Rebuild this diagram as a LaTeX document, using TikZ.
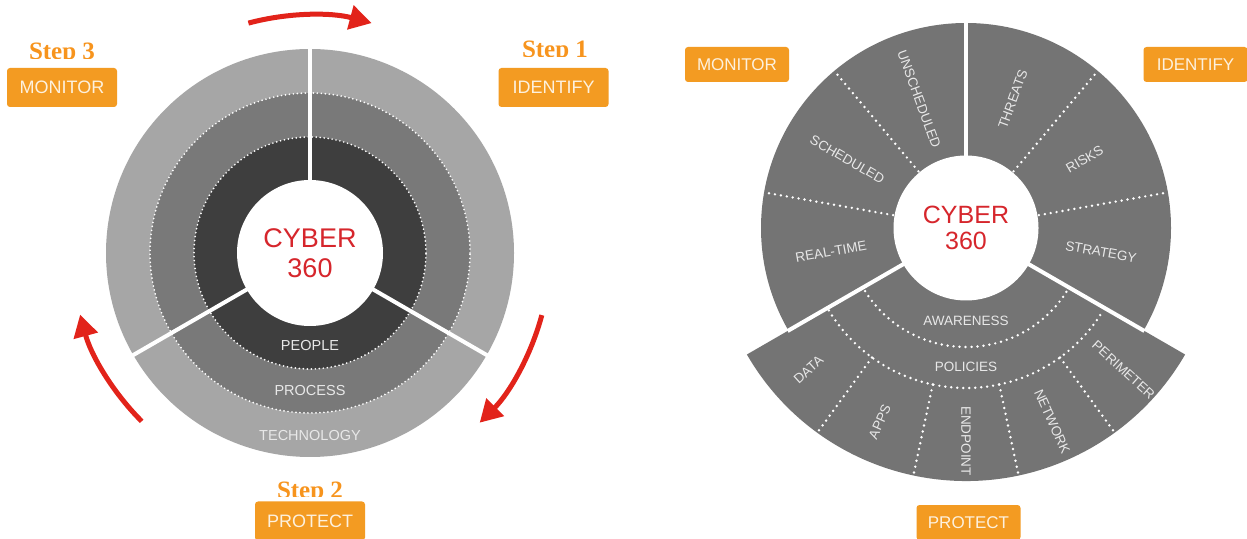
\documentclass[tikz,border=0pt]{standalone}
\usepackage{fontspec}
\setmainfont{Liberation Sans}
\newfontfamily\stepfont{Liberation Serif}
\usetikzlibrary{arrows.meta,calc}
\definecolor{ring1}{HTML}{A6A6A6}
\definecolor{ring2}{HTML}{797979}
\definecolor{ring3}{HTML}{3E3E3E}
\definecolor{sect}{HTML}{747474}
\definecolor{orng}{HTML}{F39B22}
\definecolor{stepc}{HTML}{F7941D}
\definecolor{boxtxt}{HTML}{FDF1DE}
\definecolor{redarr}{HTML}{E2231A}
\definecolor{cyb}{HTML}{D6262C}
\definecolor{lbl}{HTML}{E8E8E8}
\begin{document}
\begin{tikzpicture}[x=1pt,y=1pt,
  ldot/.style={white, line width=1.9pt, dash pattern=on 0pt off 4pt, line cap=round},
  rdot/.style={white, line width=2.7pt, dash pattern=on 0pt off 6pt, line cap=round},
  gap/.style={white, line width=4pt},
  lab/.style={text=lbl, font=\fontsize{13.5}{13.5}\selectfont, inner sep=0pt},
  llab/.style={text=lbl, font=\fontsize{14.5}{14.5}\selectfont, inner sep=0pt},
  tag/.style={fill=orng, rounded corners=3pt, text=boxtxt, inner sep=0pt},
  ltag/.style={tag, minimum width=110pt, minimum height=39pt, font=\fontsize{18}{18}\selectfont},
  rtag/.style={tag, minimum width=104pt, minimum height=35pt, font=\fontsize{17}{17}\selectfont},
  steptxt/.style={text=stepc, font=\stepfont\bfseries\fontsize{25}{25}\selectfont, anchor=base, inner sep=0pt},
  core/.style={circle, fill=white, inner sep=0pt, align=center, text=cyb},
  cyc/.style={-{Triangle[length=22pt,width=24pt]}, redarr, line width=5pt}]
\useasboundingbox (0,0) rectangle (1247,538);
\fill[white] (0,0) rectangle (1247,538);

% ---------------- left diagram ----------------
\coordinate (L) at (310,285);
\fill[ring1] (L) circle (204);
\fill[ring2] (L) circle (160);
\fill[ring3] (L) circle (116);
\draw[ldot] (L) circle (160);
\draw[ldot] (L) circle (116);
\foreach \a in {90,210,330} \draw[gap] ($(L)+(\a:70)$) -- ($(L)+(\a:206)$);
\node[core, minimum size=146pt, font=\fontsize{27}{30}\selectfont] (lcore) at (L) {CYBER\\360};
\node[llab] (people) at (310,192) {PEOPLE};
\node[llab] (process) at (310,147) {PROCESS};
\node[llab] (techn) at (310,102) {TECHNOLOGY};

\draw[cyc] ($(L)+(105:238)$) arc[start angle=105, end angle=75, radius=238];
\draw[cyc] ($(L)+(-15:240)$) arc[start angle=-15, end angle=-45, radius=240];
\draw[cyc] ($(L)+(225:238)$) arc[start angle=225, end angle=195, radius=238];

\node[ltag] (lmon) at (62,450.5) {MONITOR};
\node[ltag] (lid) at (553.5,450.5) {IDENTIFY};
\node[ltag] (lpro) at (310,17) {PROTECT};

\begin{scope}
\clip (0,479) rectangle (300,538);
\node[steptxt] (s3) at (62,478) {Step 3};
\end{scope}
\begin{scope}
\clip (400,481) rectangle (700,538);
\node[steptxt] (s1) at (555,480) {Step 1};
\end{scope}
\begin{scope}
\clip (200,41) rectangle (420,100);
\node[steptxt] (s2) at (310,40) {Step 2};
\end{scope}

% ---------------- right diagram ----------------
\coordinate (C) at (966,310);
\fill[sect] (C) circle (205);
\fill[sect] (C) -- ($(C)+(210:253)$) arc[start angle=210, end angle=330, radius=253] -- cycle;
\foreach \a in {10,50,130,170} \draw[rdot] ($(C)+(\a:74)$) -- ($(C)+(\a:203)$);
\foreach \a in {234,258,282,306} \draw[rdot] ($(C)+(\a:160)$) -- ($(C)+(\a:250)$);
\draw[rdot] ($(C)+(212:119)$) arc[start angle=212, end angle=328, radius=119];
\draw[rdot] ($(C)+(211:160)$) arc[start angle=211, end angle=329, radius=160];
\foreach \a in {90,210,330} \draw[gap] ($(C)+(\a:70)$) -- ($(C)+(\a:206)$);
\node[core, minimum size=145pt, font=\fontsize{25}{26}\selectfont] (rcore) at (C) {CYBER\\360};

\node[lab, rotate=70] (threats) at ($(C)+(70:137)$) {THREATS};
\node[lab, rotate=30] (risks) at ($(C)+(30:137)$) {RISKS};
\node[lab, rotate=-10] (strategy) at ($(C)+(-10:137)$) {STRATEGY};
\node[lab, rotate=-70] (unsched) at ($(C)+(110:137)$) {UNSCHEDULED};
\node[lab, rotate=-30] (sched) at ($(C)+(150:137)$) {SCHEDULED};
\node[lab, rotate=10] (realtime) at ($(C)+(190:137)$) {REAL-TIME};
\node[lab] (aware) at ($(C)+(0,-93)$) {AWARENESS};
\node[lab] (policies) at ($(C)+(0,-139)$) {POLICIES};
\node[lab, rotate=42] (data) at ($(C)+(222:212)$) {DATA};
\node[lab, rotate=66] (apps) at ($(C)+(246:212)$) {APPS};
\node[lab, rotate=-90] (endpoint) at ($(C)+(270:213)$) {ENDPOINT};
\node[lab, rotate=-66] (network) at ($(C)+(294:212)$) {NETWORK};
\node[lab, rotate=-42] (perimeter) at ($(C)+(318:212)$) {PERIMETER};

\node[rtag] (rmon) at (737,473.5) {MONITOR};
\node[rtag] (rid) at (1195.5,473.5) {IDENTIFY};
\node[rtag] (rpro) at (968.5,15.5) {PROTECT};
\end{tikzpicture}
\end{document}
